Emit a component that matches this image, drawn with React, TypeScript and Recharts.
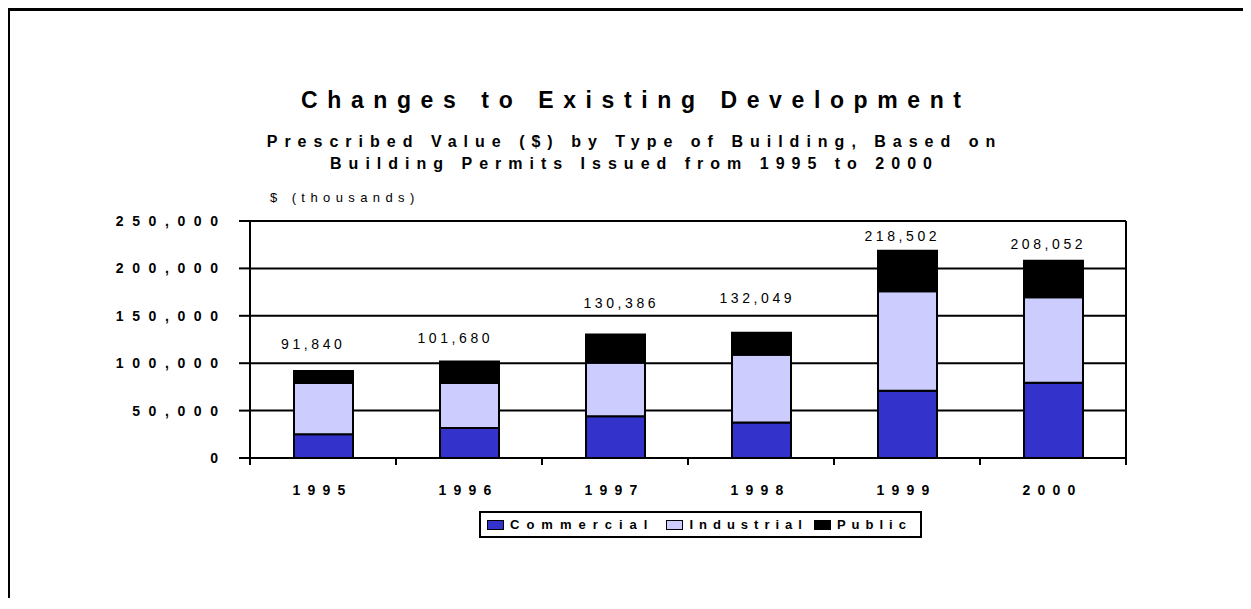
import React from "react";
import {
  BarChart,
  Bar,
  XAxis,
  YAxis,
  CartesianGrid,
  LabelList,
  ReferenceLine,
} from "recharts";

const years = ["1995", "1996", "1997", "1998", "1999", "2000"];
const commercial = [25000, 31600, 44000, 37500, 71000, 79500];
const industrial = [54000, 47400, 56500, 71300, 105000, 90000];
const publicVals = [12840, 22680, 29886, 23249, 42502, 38552];
const totals = [91840, 101680, 130386, 132049, 218502, 208052];
const yTicks = [0, 50000, 100000, 150000, 200000, 250000];
const seriesNames = ["Commercial", "Industrial", "Public"];
const seriesColors = ["#3333CC", "#CCCCFF", "#000000"];

// label placement nudges (presentation only)
const labelDx = [-12, -16, 4, -6, -7, -7];
const labelLift = [22, 19, 26, 30, 10, 12];

const data = years.map((y, i) => ({
  year: y,
  Commercial: commercial[i],
  Industrial: industrial[i],
  Public: publicVals[i],
  total: totals[i],
}));

const FONT = "'Liberation Sans', Arial, sans-serif";

const CHART_W = 1235;
const CHART_H = 590;
const MARGIN = { top: 213, right: 117, bottom: 100, left: 142 };
const Y_W = 100;
const PLOT_W = CHART_W - MARGIN.left - MARGIN.right - Y_W;
const BAND = PLOT_W / years.length;

const fmt = (v: number) => v.toLocaleString("en-US");

const YTick = (props: any) => {
  const { x, y, payload } = props;
  const ls = 8.6;
  return (
    <text
      x={x - 21 + ls}
      y={y + 5}
      textAnchor="end"
      fontFamily={FONT}
      fontWeight="bold"
      fontSize={14}
      letterSpacing={ls}
      fill="#000"
    >
      {fmt(payload.value)}
    </text>
  );
};

const XTick = (props: any) => {
  const { x, y, payload, index } = props;
  const ls = 7.2;
  const last = index === years.length - 1;
  return (
    <g>
      <line
        x1={x - BAND / 2}
        x2={x - BAND / 2}
        y1={y}
        y2={y + 7}
        stroke="#000"
        strokeWidth={2}
      />
      {last && (
        <line
          x1={x + BAND / 2}
          x2={x + BAND / 2}
          y1={y}
          y2={y + 7}
          stroke="#000"
          strokeWidth={2}
        />
      )}
      <text
        x={x + ls / 2 - 4}
        y={y + 37}
        textAnchor="middle"
        fontFamily={FONT}
        fontWeight="bold"
        fontSize={14}
        letterSpacing={ls}
        fill="#000"
      >
        {payload.value}
      </text>
    </g>
  );
};

const TotalLabel = (props: any) => {
  const { x, y, width, value, index } = props;
  const ls = 3.6;
  return (
    <text
      x={x + width / 2 + (labelDx[index] ?? 0) + ls / 2}
      y={y - (labelLift[index] ?? 16)}
      textAnchor="middle"
      fontFamily={FONT}
      fontSize={14}
      letterSpacing={ls}
      fill="#000"
    >
      {fmt(value)}
    </text>
  );
};

export default function App() {
  return (
    <div style={{ position: "relative", width: CHART_W, height: CHART_H }}>
      <div
        style={{
          position: "absolute",
          left: -2,
          top: -1,
          width: 1245,
          height: 602,
          borderTop: "4px solid #000",
          borderLeft: "4px solid #000",
          boxSizing: "border-box",
        }}
      />
      <svg
        width={CHART_W}
        height={CHART_H}
        style={{ position: "absolute", left: 0, top: 0 }}
      >
        <text
          x={623 + 4.8}
          y={100}
          textAnchor="middle"
          fontFamily={FONT}
          fontWeight="bold"
          fontSize={23}
          letterSpacing={9.6}
          fill="#000"
        >
          Changes to Existing Development
        </text>
        <text
          x={623 + 3.5}
          y={138.7}
          textAnchor="middle"
          fontFamily={FONT}
          fontWeight="bold"
          fontSize={16}
          letterSpacing={7}
          fill="#000"
        >
          Prescribed Value ($) by Type of Building, Based on
        </text>
        <text
          x={623 + 3.5}
          y={160.7}
          textAnchor="middle"
          fontFamily={FONT}
          fontWeight="bold"
          fontSize={16}
          letterSpacing={7}
          fill="#000"
        >
          Building Permits Issued from 1995 to 2000
        </text>
        <text
          x={262}
          y={194}
          textAnchor="start"
          fontFamily={FONT}
          fontSize={13}
          letterSpacing={5.4}
          fill="#000"
        >
          $ (thousands)
        </text>
      </svg>
      <div style={{ position: "absolute", left: 0, top: 0 }}>
        <BarChart width={CHART_W} height={CHART_H} data={data} margin={MARGIN}>
          <CartesianGrid
            horizontal={true}
            vertical={false}
            stroke="#000"
            strokeWidth={2}
          />
          <XAxis
            dataKey="year"
            height={40}
            axisLine={{ stroke: "#000", strokeWidth: 2 }}
            tickLine={false}
            tickSize={0}
            tickMargin={0}
            tick={<XTick />}
            interval={0}
          />
          <YAxis
            width={Y_W}
            domain={[0, 250000]}
            ticks={yTicks}
            interval={0}
            axisLine={{ stroke: "#000", strokeWidth: 2 }}
            tickLine={{ stroke: "#000", strokeWidth: 2 }}
            tickSize={11}
            tickMargin={0}
            tick={<YTick />}
          />
          <ReferenceLine
            x={years[years.length - 1]}
            position="end"
            stroke="#000"
            strokeWidth={2}
          />
          <Bar
            dataKey="Commercial"
            stackId="a"
            fill={seriesColors[0]}
            stroke="#000"
            strokeWidth={2}
            barSize={59}
            isAnimationActive={false}
          />
          <Bar
            dataKey="Industrial"
            stackId="a"
            fill={seriesColors[1]}
            stroke="#000"
            strokeWidth={2}
            barSize={59}
            isAnimationActive={false}
          />
          <Bar
            dataKey="Public"
            stackId="a"
            fill={seriesColors[2]}
            stroke="#000"
            strokeWidth={2}
            barSize={59}
            isAnimationActive={false}
          >
            <LabelList dataKey="total" content={<TotalLabel />} />
          </Bar>
        </BarChart>
      </div>
      <div
        style={{
          position: "absolute",
          left: 471,
          top: 503,
          width: 443,
          height: 27,
          border: "2px solid #000",
          boxSizing: "border-box",
          display: "flex",
          alignItems: "center",
          paddingLeft: 6,
          fontFamily: FONT,
          fontWeight: "bold",
          fontSize: 13,
          background: "#fff",
        }}
      >
        {seriesNames.map((n, i) => (
          <div
            key={n}
            style={{
              display: "flex",
              alignItems: "center",
              marginRight: i === 0 ? 12 : 6,
            }}
          >
            <span
              style={{
                display: "inline-block",
                width: 17,
                height: 10,
                background: seriesColors[i],
                border: "1px solid #000",
                boxSizing: "border-box",
                marginRight: 6,
              }}
            />
            <span
              style={{
                letterSpacing: i === 0 ? 7 : 6,
                lineHeight: "13px",
              }}
            >
              {n}
            </span>
          </div>
        ))}
      </div>
    </div>
  );
}
